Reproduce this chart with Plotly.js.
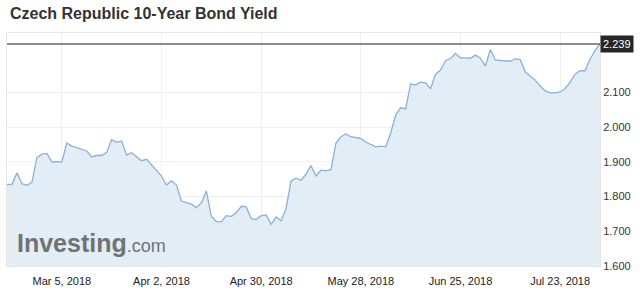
<!DOCTYPE html>
<html>
<head>
<meta charset="utf-8">
<script src="https://cdn.plot.ly/plotly-3.0.1.min.js"></script>
<style>
html,body{margin:0;padding:0;background:#fff;}
#chart{width:640px;height:299px;}
</style>
</head>
<body>
<div id="chart"></div>
<script>
const dates = [
'2018-02-16','2018-02-19','2018-02-20','2018-02-21','2018-02-22','2018-02-23',
'2018-02-26','2018-02-27','2018-02-28','2018-03-01','2018-03-02',
'2018-03-05','2018-03-06','2018-03-07','2018-03-12','2018-03-13','2018-03-14','2018-03-15','2018-03-16',
'2018-03-19','2018-03-20','2018-03-21','2018-03-22','2018-03-23',
'2018-03-27','2018-03-28',
'2018-04-02','2018-04-03','2018-04-04','2018-04-05','2018-04-06',
'2018-04-10','2018-04-11','2018-04-12','2018-04-13',
'2018-04-16','2018-04-17','2018-04-18','2018-04-19','2018-04-20',
'2018-04-23','2018-04-24','2018-04-25','2018-04-26','2018-04-27',
'2018-04-30','2018-05-01','2018-05-02','2018-05-03','2018-05-04',
'2018-05-07','2018-05-08','2018-05-09','2018-05-10','2018-05-11',
'2018-05-14','2018-05-15','2018-05-16','2018-05-17','2018-05-18',
'2018-05-21','2018-05-22','2018-05-23','2018-05-24',
'2018-05-28','2018-05-29','2018-05-31','2018-06-01',
'2018-06-04','2018-06-05','2018-06-06','2018-06-07','2018-06-08',
'2018-06-11','2018-06-12','2018-06-13','2018-06-14','2018-06-15',
'2018-06-18','2018-06-19','2018-06-20','2018-06-21','2018-06-22',
'2018-06-25','2018-06-26','2018-06-27','2018-06-28','2018-06-29',
'2018-07-02','2018-07-03','2018-07-04','2018-07-05','2018-07-06',
'2018-07-09','2018-07-10','2018-07-11','2018-07-12','2018-07-13',
'2018-07-16','2018-07-17','2018-07-18','2018-07-19','2018-07-20',
'2018-07-23','2018-07-24','2018-07-25','2018-07-26','2018-07-27',
'2018-07-30','2018-07-31','2018-08-01','2018-08-02'
];
const yields = [
1.835,1.835,1.868,1.837,1.832,1.841,
1.912,1.922,1.924,1.900,1.900,
1.899,1.954,1.945,1.931,1.914,1.918,1.918,1.927,
1.964,1.956,1.960,1.919,1.926,
1.903,1.907,
1.859,1.833,1.845,1.833,1.787,
1.778,1.768,1.782,1.816,
1.743,1.728,1.727,1.745,1.743,
1.753,1.772,1.770,1.737,1.734,
1.745,1.747,1.720,1.741,1.730,
1.765,1.845,1.853,1.847,1.864,
1.889,1.859,1.876,1.874,1.877,
1.953,1.972,1.980,1.972,
1.967,1.957,1.943,1.945,
1.943,1.983,2.034,2.056,2.052,
2.124,2.121,2.129,2.127,2.110,
2.152,2.164,2.191,2.197,2.212,
2.199,2.199,2.198,2.207,2.198,
2.176,2.223,2.193,2.191,2.190,
2.190,2.196,2.194,2.159,2.147,
2.135,2.118,2.104,2.098,2.098,
2.101,2.111,2.129,2.152,2.162,
2.162,2.195,2.220,2.239
];
const tickDates = ['2018-03-05','2018-04-02','2018-04-30','2018-05-28','2018-06-25','2018-07-23'];
const tickLabels = ['Mar 5, 2018','Apr 2, 2018','Apr 30, 2018','May 28, 2018','Jun 25, 2018','Jul 23, 2018'];
const yTicks = [1.6,1.7,1.8,1.9,2.0,2.1];
const lastValue = 2.239;
const titleText = 'Czech Republic 10-Year Bond Yield';

const trace = {
  x: dates, y: yields, type: 'scatter', mode: 'lines',
  line: {color: 'rgb(140,176,214)', width: 1.3},
  fill: 'tozeroy', fillcolor: 'rgb(226,237,245)',
  hoverinfo: 'skip'
};

const layout = {
  width: 640, height: 299,
  margin: {l: 7, r: 40, t: 33, b: 33},
  paper_bgcolor: '#ffffff', plot_bgcolor: '#ffffff',
  showlegend: false,
  font: {family: 'Liberation Sans, Arial, sans-serif', color: '#333', size: 11},
  title: {text: '<b>' + titleText + '</b>', x: 0.005, xanchor: 'left', xref: 'paper',
          y: 0.955, yanchor: 'middle', font: {size: 16, color: '#333', family: 'Liberation Sans, Arial, sans-serif'}},
  xaxis: {
    type: 'date', range: ['2018-02-16', '2018-08-02'],
    rangebreaks: [{bounds: ['sat', 'mon']}],
    tickmode: 'array', tickvals: tickDates, ticktext: tickLabels,
    showgrid: true, gridcolor: '#f0f0f0', gridwidth: 1,
    ticks: '', ticklabelstandoff: 5,
    showline: true, mirror: true, linecolor: '#e6e6e6', linewidth: 1,
    zeroline: false, tickfont: {size: 11, color: '#222'}
  },
  yaxis: {
    side: 'right', range: [1.6, 2.2706],
    tickmode: 'array', tickvals: yTicks, tickformat: '.3f',
    showgrid: true, gridcolor: '#f0f0f0', gridwidth: 1,
    ticks: '', showline: true, mirror: true, linecolor: '#e6e6e6', linewidth: 1,
    zeroline: false, tickfont: {size: 11, color: '#333'}
  },
  shapes: [
    {type: 'line', xref: 'paper', yref: 'y', x0: 0, x1: 1, y0: lastValue, y1: lastValue,
     line: {color: '#666', width: 1.6}}
  ],
  annotations: [
    {xref: 'paper', yref: 'y', x: 1, y: lastValue, xanchor: 'left', yanchor: 'middle',
     text: lastValue.toFixed(3), showarrow: false, bgcolor: '#262626',
     font: {color: '#fff', size: 11}, borderpad: 2},
    {xref: 'paper', yref: 'paper', x: 0.014, y: 0.1, xanchor: 'left', yanchor: 'middle',
     text: '<b>Investing</b><span style="font-size:18px">.com</span>',
     showarrow: false,
     font: {family: 'Liberation Sans, Arial', size: 25, color: 'rgb(112,114,117)'}}
  ]
};

Plotly.newPlot('chart', [trace], layout, {displayModeBar: false, staticPlot: true});
</script>
</body>
</html>
